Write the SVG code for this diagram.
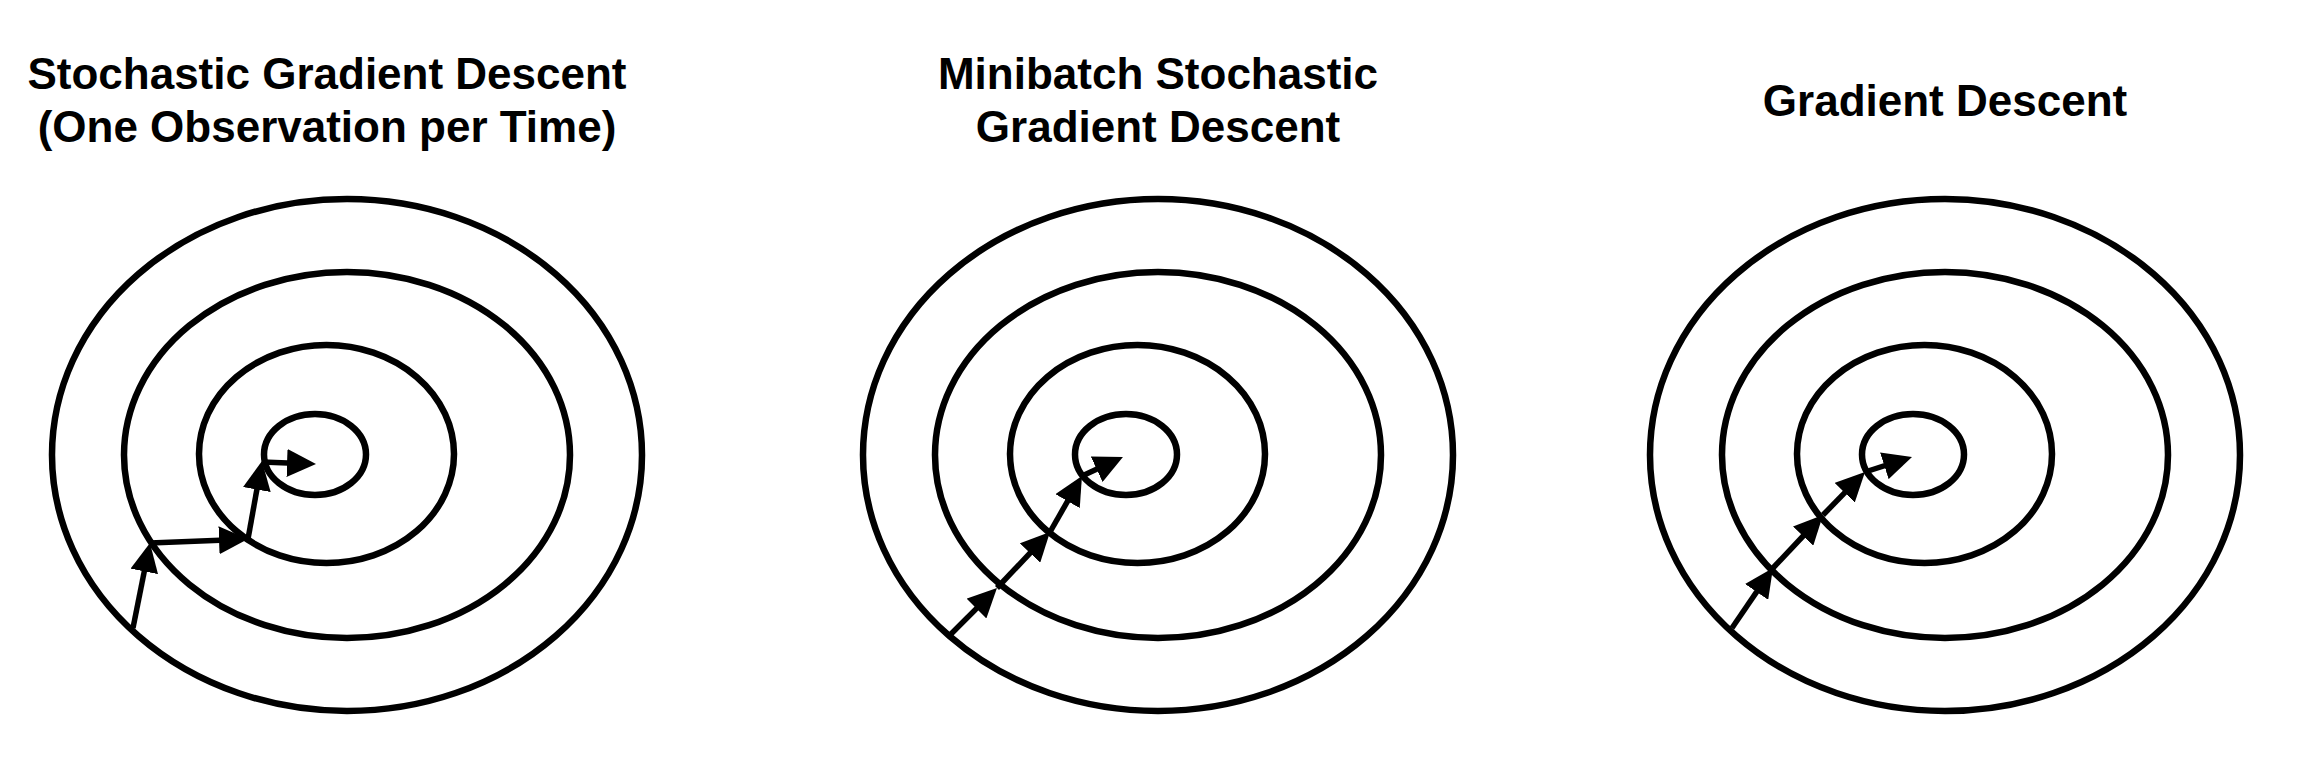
<svg xmlns="http://www.w3.org/2000/svg" width="2324" height="782" viewBox="0 0 2324 782">
<style>
  .title { font-family: "Liberation Sans", Arial, sans-serif; font-weight: bold; font-size: 44px; fill: #000; text-anchor: middle; }
  .ring { fill: none; stroke: #000; stroke-width: 6.5; }
  .step { fill: none; stroke: #000; stroke-width: 5.5; marker-end: url(#head); }
</style>
<defs>
  <marker id="head" viewBox="0 0 29 28" markerUnits="userSpaceOnUse" markerWidth="29" markerHeight="28" refX="20" refY="14" orient="auto">
    <path d="M0,0 L29,14 L0,28 z" fill="#000"/>
  </marker>
</defs>
<rect width="2324" height="782" fill="#fff"/>

<g id="panel-sgd">
  <text class="title" x="327" y="89">Stochastic Gradient Descent</text>
  <text class="title" x="327" y="142">(One Observation per Time)</text>
  <ellipse class="ring" cx="347" cy="455" rx="295" ry="256"/>
  <ellipse class="ring" cx="347" cy="455" rx="223" ry="183"/>
  <ellipse class="ring" cx="326.5" cy="454" rx="127.5" ry="109"/>
  <ellipse class="ring" cx="315" cy="454.5" rx="51" ry="40.5"/>
</g>

<g id="panel-minibatch">
  <text class="title" x="1158" y="89">Minibatch Stochastic</text>
  <text class="title" x="1158" y="142">Gradient Descent</text>
  <ellipse class="ring" cx="1158" cy="455" rx="295" ry="256"/>
  <ellipse class="ring" cx="1158" cy="455" rx="223" ry="183"/>
  <ellipse class="ring" cx="1137.5" cy="454" rx="127.5" ry="109"/>
  <ellipse class="ring" cx="1126" cy="454.5" rx="51" ry="40.5"/>
</g>

<g id="panel-gd">
  <text class="title" x="1945" y="116">Gradient Descent</text>
  <ellipse class="ring" cx="1945" cy="455" rx="295" ry="256"/>
  <ellipse class="ring" cx="1945" cy="455" rx="223" ry="183"/>
  <ellipse class="ring" cx="1924.5" cy="454" rx="127.5" ry="109"/>
  <ellipse class="ring" cx="1913" cy="454.5" rx="51" ry="40.5"/>
</g>

<g id="connectors">
  <line class="step" x1="133" y1="628" x2="148.2" y2="551.8"/>
  <line class="step" x1="150" y1="543" x2="239.0" y2="539.4"/>
  <line class="step" x1="248" y1="539" x2="260.4" y2="469.9"/>
  <line class="step" x1="262" y1="462" x2="307.0" y2="463.7"/>

  <line class="step" x1="948" y1="637" x2="990.6" y2="594.4"/>
  <line class="step" x1="997" y1="588" x2="1043.8" y2="538.5"/>
  <line class="step" x1="1050" y1="532" x2="1077.5" y2="483.8"/>
  <line class="step" x1="1082" y1="476" x2="1114.8" y2="460.8"/>

  <line class="step" x1="1732" y1="628" x2="1767.9" y2="575.4"/>
  <line class="step" x1="1773" y1="568" x2="1816.8" y2="521.5"/>
  <line class="step" x1="1823" y1="515" x2="1858.7" y2="478.4"/>
  <line class="step" x1="1865" y1="472" x2="1903.4" y2="459.7"/>
</g>
</svg>
